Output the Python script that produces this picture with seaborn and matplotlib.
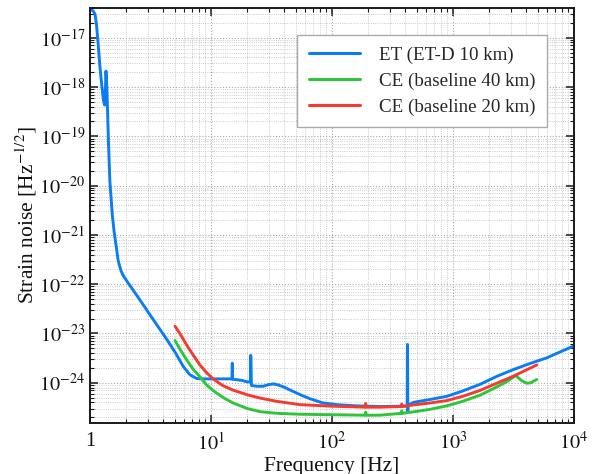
import numpy as np
import pandas as pd
import seaborn as sns
import matplotlib
matplotlib.use("Agg")
import matplotlib.pyplot as plt
from matplotlib.ticker import LogLocator, FuncFormatter, NullFormatter

# ---------------- data ----------------
et_freq = [1.0, 1.06, 1.10, 1.13, 1.17, 1.21, 1.25, 1.29, 1.32, 1.34, 1.355, 1.375,
           1.39, 1.42, 1.46, 1.53, 1.58, 1.71, 1.80, 1.88, 2.05, 2.28, 2.6, 3.13,
           3.6, 4.31, 5.1, 5.9, 6.7, 7.62, 8.5, 10.4, 12.5, 14.9, 15.0, 15.1, 18,
           19.7, 21.2, 21.3, 21.6, 24, 27, 30, 33, 36, 40, 47, 54.5, 65, 84, 110,
           160, 251, 350, 419, 421, 423, 425, 470, 650, 887, 1200, 1672, 2300,
           3150, 4300, 5943, 7800, 10000]
et_asd = [3.8e-17, 3.5e-17, 3.0e-17, 1.9e-17, 7e-18, 2.5e-18, 1.1e-18, 5.5e-19,
          4.3e-19, 8.5e-19, 2.1e-18, 1.1e-18, 5.0e-19, 8e-20, 1.2e-20, 2.5e-21,
          1.2e-21, 3.0e-22, 1.9e-22, 1.5e-22, 1.09e-22, 7.5e-23, 4.7e-23, 2.4e-23,
          1.45e-23, 7.6e-24, 4.0e-24, 2.14e-24, 1.45e-24, 1.22e-24, 1.2e-24, 1.2e-24,
          1.2e-24, 1.2e-24, 2.5e-24, 1.18e-24, 1.12e-24, 1.05e-24, 1.03e-24, 3.6e-24,
          8.8e-25, 8.5e-25, 8.5e-25, 9.2e-25, 9.5e-25, 9.0e-25, 8.2e-25, 6.8e-25,
          5.75e-25, 4.8e-25, 3.9e-25, 3.6e-25, 3.4e-25, 3.3e-25, 3.35e-25, 3.4e-25,
          6.0e-24, 2.6e-25, 3.5e-25, 4.0e-25, 4.6e-25, 5.3e-25, 6.8e-25, 9.3e-25,
          1.35e-24, 1.85e-24, 2.45e-24, 3.2e-24, 4.3e-24, 5.6e-24]

ce40_freq = [5.04, 5.6, 6.3, 7.1, 8.1, 9.2, 10.4, 11.1, 13, 15.2, 20, 25.4, 35, 54.5,
             100, 188, 190, 192, 249, 375, 377, 379, 470, 650, 887, 1200, 1672,
             2200, 2780, 3300, 3700, 4064, 4400, 4920]
ce40_asd = [7.2e-24, 4.6e-24, 2.9e-24, 1.9e-24, 1.32e-24, 9e-25, 7.0e-25, 6.2e-25,
            4.8e-25, 3.9e-25, 3.0e-25, 2.6e-25, 2.4e-25, 2.3e-25, 2.25e-25, 2.2e-25,
            2.55e-25, 2.2e-25, 2.2e-25, 2.4e-25, 2.7e-25, 2.4e-25, 2.57e-25, 2.9e-25,
            3.4e-25, 4.2e-25, 5.6e-25, 7.8e-25, 1.05e-24, 1.4e-24, 1.1e-24, 9.8e-25,
            1.0e-24, 1.17e-24]

ce20_freq = [5.04, 5.6, 6.3, 7.1, 8.1, 9.2, 10.4, 12.5, 15.2, 20, 25.4, 35, 54.5,
             100, 188, 190, 192, 249, 375, 377, 379, 470, 650, 887, 1200, 1672,
             2300, 3150, 4000, 4920]
ce20_asd = [1.41e-23, 9.5e-24, 5.8e-24, 3.7e-24, 2.3e-24, 1.6e-24, 1.2e-24, 8.8e-25,
            7.1e-25, 5.7e-25, 4.9e-25, 4.2e-25, 3.6e-25, 3.35e-25, 3.2e-25, 3.8e-25,
            3.2e-25, 3.2e-25, 3.3e-25, 3.7e-25, 3.3e-25, 3.55e-25, 3.9e-25, 4.35e-25,
            5.3e-25, 7.0e-25, 9.8e-25, 1.36e-24, 1.8e-24, 2.3e-24]

labels = ["ET (ET-D 10 km)", "CE (baseline 40 km)", "CE (baseline 20 km)"]
colors = ["#0a7df5", "#2fc53a", "#f53b30"]

df = pd.concat([
    pd.DataFrame({"f": et_freq, "asd": et_asd, "det": labels[0]}),
    pd.DataFrame({"f": ce40_freq, "asd": ce40_asd, "det": labels[1]}),
    pd.DataFrame({"f": ce20_freq, "asd": ce20_asd, "det": labels[2]}),
], ignore_index=True)

# ---------------- style ----------------
sns.set_theme(style="ticks")
plt.rcParams["font.family"] = ["Liberation Serif", "DejaVu Serif"]
plt.rcParams["mathtext.fontset"] = "stix"
plt.rcParams["axes.linewidth"] = 1.4

fig = plt.figure(figsize=(5.96, 4.74), dpi=100)
ax = fig.add_axes([90 / 596, 1 - 422.7 / 474, 484 / 596, 414.7 / 474])

sns.lineplot(data=df, x="f", y="asd", hue="det", palette=colors, estimator=None,
             sort=False, linewidth=2.1, ax=ax, legend=True)

ax.set_xscale("log")
ax.set_yscale("log")
ax.set_xlim(1, 1e4)
ax.set_ylim(1.55e-25, 4.0e-17)

def fmt(v, pos):
    e = int(round(np.log10(v)))
    if e == 0:
        return "1"
    return r"$10^{%d}$" % e

ax.xaxis.set_major_locator(LogLocator(base=10, numticks=20))
ax.xaxis.set_minor_locator(LogLocator(base=10, subs=np.arange(2, 10), numticks=50))
ax.yaxis.set_major_locator(LogLocator(base=10, numticks=20))
ax.yaxis.set_minor_locator(LogLocator(base=10, subs=np.arange(2, 10), numticks=50))
ax.xaxis.set_major_formatter(FuncFormatter(fmt))
ax.yaxis.set_major_formatter(FuncFormatter(fmt))
ax.xaxis.set_minor_formatter(NullFormatter())
ax.yaxis.set_minor_formatter(NullFormatter())

ax.tick_params(which="both", direction="in", top=True, right=True, colors="#1a1a1a",
               labelsize=14.5, labelcolor="#111111")
ax.tick_params(which="major", length=6, width=1.1)
ax.tick_params(which="minor", length=3, width=0.8)
ax.tick_params(axis="x", which="major", pad=7)

ax.grid(True, which="major", linestyle=":", color="#aaaaaa", linewidth=0.8)
ax.grid(True, which="minor", linestyle=":", color="#bbbbbb", linewidth=0.6)
for s in ax.spines.values():
    s.set_color("#1a1a1a")

ax.set_xlabel("Frequency [Hz]", fontsize=15.5, color="#111111", labelpad=2)
ax.set_ylabel("Strain noise [Hz$^{-1/2}$]", fontsize=15.5, color="#111111", labelpad=0)

handles, lbls = ax.get_legend_handles_labels()
leg = ax.legend(handles, lbls, loc="upper right", bbox_to_anchor=(0.944, 0.935),
                borderaxespad=0, fontsize=13.7, frameon=True, fancybox=False,
                framealpha=1, edgecolor="#aaaaaa", handlelength=2.7,
                handletextpad=1.0, labelspacing=0.45, borderpad=0.6)
leg.get_frame().set_linewidth(1.0)
for line in leg.get_lines():
    line.set_linewidth(2.2)

fig.savefig("out.png", dpi=100)
